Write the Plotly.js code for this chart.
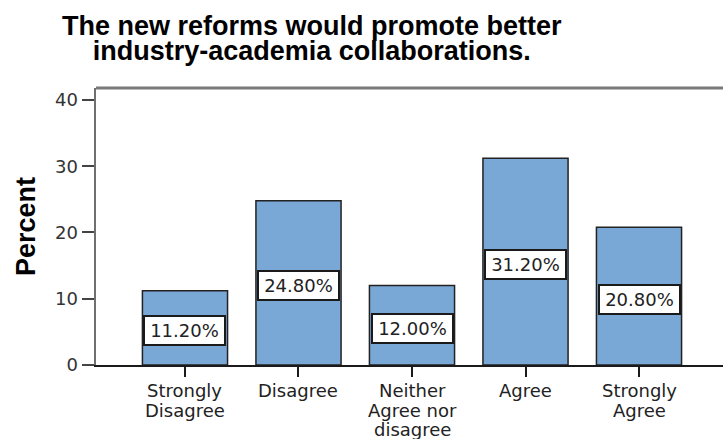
<!DOCTYPE html>
<html>
<head>
<meta charset="utf-8">
<script src="https://cdn.plot.ly/plotly-3.0.1.min.js"></script>
<style>
  html, body { margin: 0; padding: 0; background: #ffffff; }
  #chart { width: 723px; height: 439px; }
</style>
</head>
<body>
<div id="chart"></div>
<script>
// Survey responses: share of respondents per answer
const categories = ["Strongly Disagree", "Disagree", "Neither Agree nor disagree", "Agree", "Strongly Agree"];
const categoryLines = [["Strongly", "Disagree"], ["Disagree"], ["Neither", "Agree nor", "disagree"], ["Agree"], ["Strongly", "Agree"]];
const percents = [11.2, 24.8, 12.0, 31.2, 20.8];
const yTicks = [0, 10, 20, 30, 40];
const titleLines = ["The new reforms would promote better", "industry-academia collaborations."];

const labelFont = { family: "DejaVu Sans, Liberation Sans, Arial, sans-serif", size: 18, color: "#222222" };

const annotations = [];

// value labels boxed in white at the middle of each bar
percents.forEach((v, i) => {
  annotations.push({
    x: categories[i], y: v / 2, xref: "x", yref: "y",
    text: v.toFixed(2) + "%",
    showarrow: false,
    font: labelFont,
    bgcolor: "#ffffff",
    bordercolor: "#1a1a1a",
    borderwidth: 2,
    borderpad: 0,
    width: 79,
    height: 27,
    yshift: -3
  });
});

// category names, one line per annotation for tight spacing
categoryLines.forEach((lines, i) => {
  lines.forEach((ln, j) => {
    annotations.push({
      x: categories[i], y: 0, xref: "x", yref: "paper",
      yanchor: "top",
      yshift: -13 - j * 19.5,
      text: ln,
      showarrow: false,
      font: labelFont
    });
  });
});

// bold two-line title
annotations.push({
  x: 0.3445, y: 1, xref: "paper", yref: "paper",
  xanchor: "center", yanchor: "top",
  yshift: 79,
  text: "<b>" + titleLines.join("<br>") + "</b>",
  showarrow: false,
  font: { family: "Liberation Sans, Arial, sans-serif", size: 27, color: "#000000" }
});

const data = [{
  type: "bar",
  x: categories,
  y: percents,
  width: 0.75,
  marker: {
    color: "rgb(121,167,214)",
    line: { color: "#222222", width: 1.5 }
  },
  hoverinfo: "skip"
}];

const layout = {
  width: 723,
  height: 439,
  margin: { l: 96, r: 0, t: 88, b: 74 },
  paper_bgcolor: "#ffffff",
  plot_bgcolor: "#ffffff",
  showlegend: false,
  xaxis: {
    type: "category",
    range: [-0.784, 4.74],
    showgrid: false,
    zeroline: false,
    showline: true,
    linecolor: "#1a1a1a",
    linewidth: 1.5,
    ticks: "outside",
    ticklen: 10,
    tickwidth: 2,
    tickcolor: "#1a1a1a",
    showticklabels: false,
    fixedrange: true
  },
  yaxis: {
    range: [0, 41.8],
    tickvals: yTicks,
    ticktext: yTicks.map(String),
    showgrid: false,
    zeroline: false,
    showline: true,
    linecolor: "#707070",
    linewidth: 2.5,
    ticks: "outside",
    ticklen: 12,
    tickwidth: 2,
    tickcolor: "#444444",
    tickfont: { family: "DejaVu Sans, Liberation Sans, Arial, sans-serif", size: 18, color: "#333333" },
    title: {
      text: "<b>Percent</b>",
      font: { family: "Liberation Sans, Arial, sans-serif", size: 27, color: "#000000" },
      standoff: 12
    },
    fixedrange: true
  },
  shapes: [{
    type: "line", xref: "paper", yref: "paper",
    x0: 0, x1: 1, y0: 1, y1: 1,
    line: { color: "#7a7a7a", width: 3 }
  }],
  annotations: annotations
};

Plotly.newPlot("chart", data, layout, { displayModeBar: false, staticPlot: true }).then(() => {
  // tighten the title's line spacing
  document.querySelectorAll("#chart .annotation-text").forEach(t => {
    if (t.textContent.indexOf(titleLines[1]) >= 0) {
      t.querySelectorAll("tspan.line").forEach((ts, i) => ts.setAttribute("dy", (i * 0.93) + "em"));
    }
  });
});
</script>
</body>
</html>
